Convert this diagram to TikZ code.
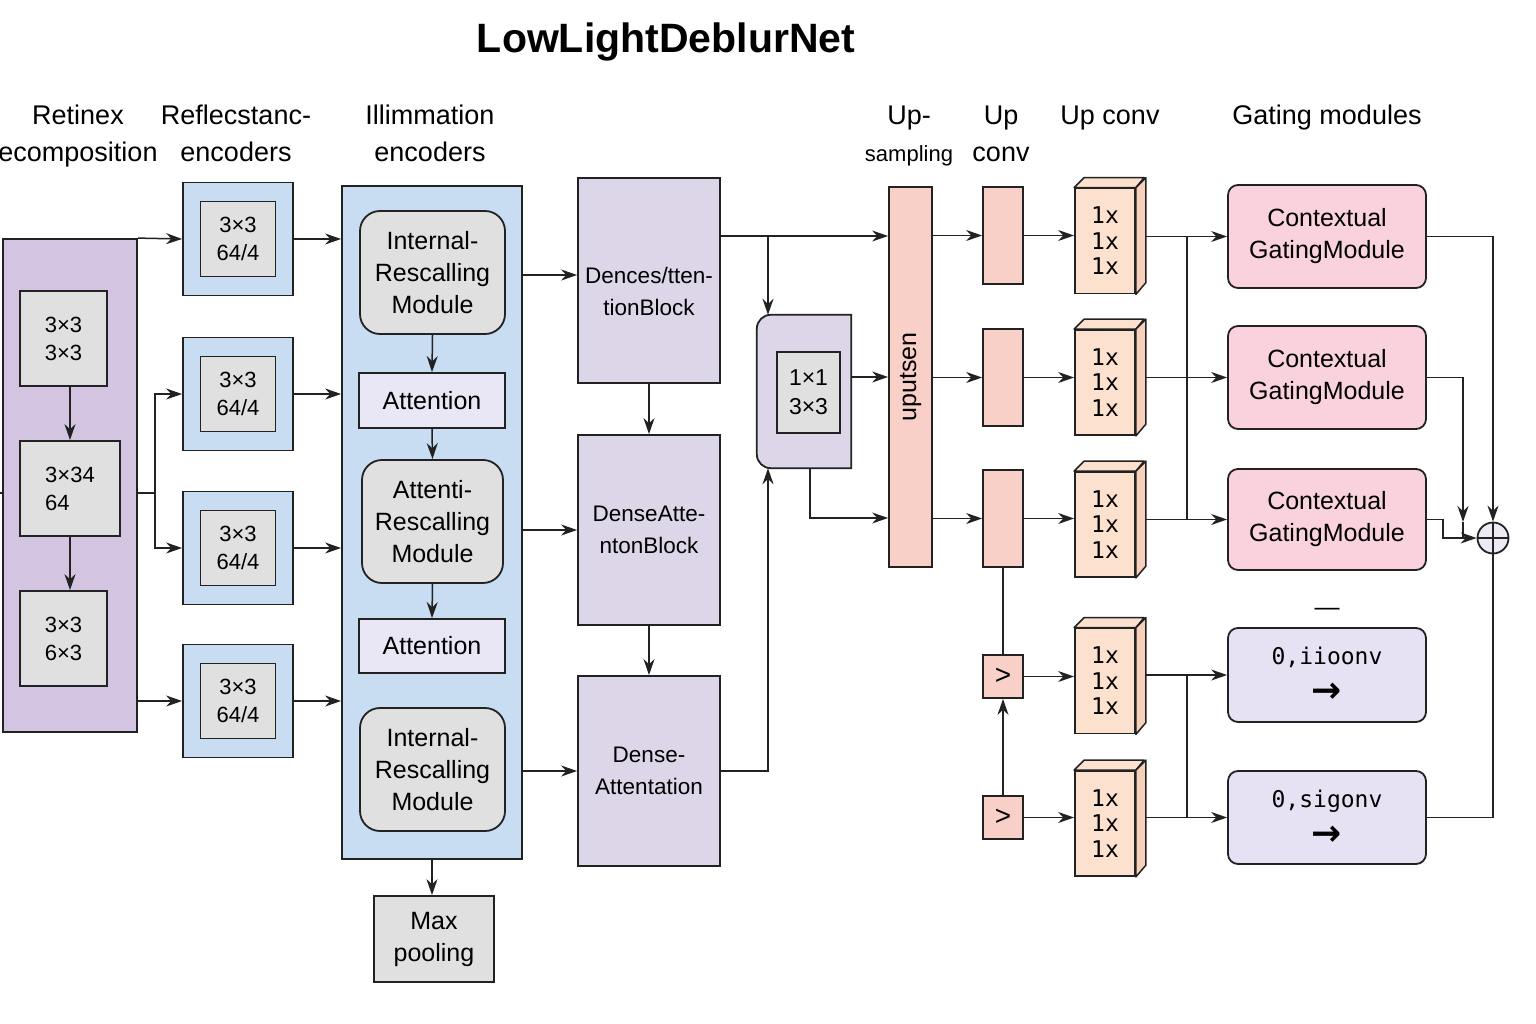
\documentclass[tikz,border=0pt]{standalone}
\usepackage{fontspec}
\setmainfont{Liberation Sans}
\setmonofont{DejaVu Sans Mono}
\newfontfamily\arrowfont{DejaVu Sans}
\usepackage{xcolor}
\usetikzlibrary{arrows.meta,positioning,backgrounds,calc}

\definecolor{edge}{RGB}{34,34,34}
\definecolor{retfill}{RGB}{211,196,225}
\definecolor{grayfill}{RGB}{224,224,224}
\definecolor{bluefill}{RGB}{200,220,242}
\definecolor{attfill}{RGB}{233,230,246}
\definecolor{densefill}{RGB}{221,214,233}
\definecolor{salmon}{RGB}{248,208,200}
\definecolor{peach}{RGB}{253,225,207}
\definecolor{peachside}{RGB}{246,208,186}
\definecolor{gatefill}{RGB}{250,210,222}
\definecolor{lavfill}{RGB}{230,225,243}
\definecolor{sumfill}{RGB}{238,234,245}

\begin{document}
\begin{tikzpicture}[
  x=1pt, y=-1pt, >=Stealth,
  box/.style={draw=edge, line width=1.8pt, align=center, inner sep=0pt, font=\fontsize{25}{32}\selectfont},
  retbox/.style={box, fill=retfill, minimum width=134pt, minimum height=493pt},
  gbox/.style={box, fill=grayfill, font=\fontsize{22}{28}\selectfont},
  encbox/.style={box, fill=bluefill, minimum width=110pt, minimum height=113pt},
  ibox/.style={gbox, minimum width=75pt, minimum height=75pt},
  rbox/.style={box, fill=grayfill, rounded corners=20pt, minimum width=145pt, minimum height=123pt},
  attbox/.style={box, fill=attfill, minimum width=146pt, minimum height=55pt},
  dbox/.style={box, fill=densefill, minimum width=142pt, font=\fontsize{22.5}{32}\selectfont},
  dlabel/.style={align=center, inner sep=0pt, font=\fontsize{22.5}{32}\selectfont},
  upbox/.style={box, fill=salmon, minimum width=40pt},
  cube/.style={box, fill=peach, minimum width=60pt, minimum height=105pt, font=\ttfamily\fontsize{23}{25.5}\selectfont},
  cubeface/.style={draw=edge, line width=1.5pt, fill=peachside, line join=round},
  gate/.style={box, fill=gatefill, rounded corners=10pt, minimum width=198pt, minimum height=103pt},
  obox/.style={box, fill=lavfill, rounded corners=10pt, minimum width=198pt, minimum height=94pt},
  head/.style={align=center, anchor=north, inner sep=0pt, font=\fontsize{27}{37}\selectfont},
  sumnode/.style={circle, draw=edge, fill=sumfill, minimum size=31pt, inner sep=0pt, line width=1.8pt,
    path picture={\draw[edge, line width=1.8pt] (path picture bounding box.north) -- (path picture bounding box.south)
      (path picture bounding box.west) -- (path picture bounding box.east);}},
  arrow/.style={-{Stealth[length=16pt,width=11pt]}, line width=1.5pt, edge},
  link/.style={line width=1.5pt, edge}
]
\useasboundingbox (0,0) rectangle (1536,1024);

\node[font=\fontsize{41}{48}\selectfont\bfseries] (title) at (666,42) {LowLightDeblurNet};

\node[head] (hret) at (78,98) {\strut Retinex\\\strut ecomposition};
\node[head] (href) at (236,98) {\strut Reflecstanc-\\\strut encoders};
\node[head] (hill) at (430,98) {\strut Illimmation\\\strut encoders};
\node[head] (hups) at (909,98) {\strut Up-\\\strut{\fontsize{22}{37}\selectfont sampling}};
\node[head] (hupc) at (1001,98) {\strut Up\\\strut conv};
\node[head] (hupc2) at (1110,98) {\strut Up conv};
\node[head] (hgate) at (1327,98) {\strut Gating modules};

% retinex decomposition
\node[retbox] (ret) at (70,485.5) {};
\node[gbox, minimum width=87pt, minimum height=95pt] (gA) at (63.5,338.5) {3×3\\3×3};
\node[gbox, minimum width=100pt, minimum height=95pt, align=left] (gB) at (70,488.5) {3×34\\64};
\node[gbox, minimum width=87pt, minimum height=95pt] (gC) at (63.5,638.5) {3×3\\6×3};
\draw[arrow] (gB.north |- gA.south) -- (gB.north);
\draw[arrow] (gB.south) -- (gB.south |- gC.north);
\coordinate (in) at (0,493);
\draw[link] (in) -- (ret.west |- in);

% reflectance encoders
\foreach \n/\y in {b1/239, b2/394, b3/548, b4/701} {
  \node[encbox] (\n) at (238,\y) {};
  \node[ibox] (\n i) at (238,\y) {3×3\\64/4};
}
\draw[arrow] (ret.north east) -- (b1.west);
\coordinate (split) at (155,493);
\draw[link] (ret.east |- split) -- (split);
\draw[arrow] (split) |- (b2.west);
\draw[arrow] (split) |- (b3.west);
\draw[arrow] (ret.east |- b4.west) -- (b4.west);

% illumination encoders
\node[box, fill=bluefill, minimum width=180pt, minimum height=673pt] (ill) at (432,522.5) {};
\foreach \n in {b1,b2,b3,b4}
  \draw[arrow] (\n.east) -- (\n.east -| ill.west);
\node[rbox] (r1) at (432.5,272.5) {Internal-\\Rescalling\\Module};
\node[attbox] (a1) at (432,400.5) {Attention};
\node[rbox, minimum width=141pt] (r2) at (432.5,521.5) {Attenti-\\Rescalling\\Module};
\node[attbox, minimum height=54pt] (a2) at (432,646) {Attention};
\node[rbox] (r3) at (432.5,769.5) {Internal-\\Rescalling\\Module};
\draw[arrow] (r1.south) -- (a1.north);
\draw[arrow] (a1.south) -- (r2.north);
\draw[arrow] (r2.south) -- (a2.north);
\node[box, fill=grayfill, minimum width=120pt, minimum height=86pt] (pool) at (434,939) {Max\\pooling};
\draw[arrow] (ill.south) -- (ill.south |- pool.north);

% dense attention blocks
\node[dbox, minimum height=205pt] (d1) at (649,280.5) {};
\node[dlabel] (d1t) at (649,291) {Dences/tten-\\tionBlock};
\node[dbox, minimum height=190pt] (d2) at (649,530) {DenseAtte-\\ntonBlock};
\node[dbox, minimum height=190pt] (d3) at (649,771) {Dense-\\Attentation};
\coordinate (rowD) at (0,275);
\draw[arrow] (ill.east |- rowD) -- (d1.west |- rowD);
\draw[arrow] (ill.east |- d2.west) -- (d2.west);
\draw[arrow] (ill.east |- d3.west) -- (d3.west);
\draw[arrow] (d1.south) -- (d2.north);
\draw[arrow] (d2.south) -- (d3.north);

% conv block and upsampling
\node[minimum width=94pt, minimum height=153pt, inner sep=0pt] (conv) at (804,391.5) {};
\begin{scope}[on background layer]
  \draw[line width=1.8pt, edge, fill=densefill] (conv.north) -- (conv.north east) -- (conv.south east) -- (conv.south)
    [rounded corners=14pt] -- (conv.south west) -- (conv.north west) -- (conv.north);
\end{scope}
\node[gbox, minimum width=63pt, minimum height=81pt, font=\fontsize{23}{29}\selectfont] (convi) at (808.5,392.5) {1×1\\3×3};
\node[upbox, minimum width=43pt, minimum height=380pt] (up) at (910.5,377) {};
\node[rotate=90, font=\fontsize{25}{30}\selectfont] (uplabel) at (up.center) {uputsen};
\coordinate (rowB) at (0,377);
\coordinate (rowC) at (0,518);
\coordinate (j1) at (768,236);
\draw[arrow] (d1.east |- j1) -- (up.west |- j1);
\draw[arrow] (j1) -- (j1 |- conv.north);
\draw[arrow] (d3.east) -| (j1 |- conv.south);
\draw[arrow] (conv.east |- rowB) -- (up.west |- rowB);
\draw[arrow] ([xshift=6pt]conv.south) |- (up.west |- rowC);

% up conv
\node[upbox, minimum height=97pt] (s1) at (1003,235.5) {};
\node[upbox, minimum height=97pt] (s2) at (1003,377.5) {};
\node[upbox, minimum height=97pt] (s3) at (1003,518.5) {};
\node[upbox, minimum height=43pt, font=\fontsize{28}{30}\selectfont] (v1) at (1003,676.5) {>};
\node[upbox, minimum height=43pt, font=\fontsize{28}{30}\selectfont] (v2) at (1003,817.5) {>};
\foreach \n in {s1,s2,s3}
  \draw[arrow] (up.east |- \n.west) -- (\n.west);
\draw[link] (s3.south) -- (v1.north);
\draw[arrow] (v2.north) -- (v1.south);

\foreach \n/\y in {c1/241, c2/382.5, c3/524.5, c4/681, c5/823.5}
  \node[cube] (\n) at (1105,\y) {1x\\1x\\1x};
\foreach \n in {c1,c2,c3,c4,c5} {
  \draw[cubeface, fill=peach] (\n.north west) -- ++(10,-10) -- ++(60,0) -- (\n.north east) -- cycle;
  \draw[cubeface] (\n.north east) -- ++(10,-10) -- ++(0,105) -- (\n.south east) -- cycle;
}
\draw[arrow] (s1.east) -- (s1.east -| c1.west);
\draw[arrow] (s2.east) -- (s2.east -| c2.west);
\draw[arrow] (s3.east) -- (s3.east -| c3.west);
\draw[arrow] (v1.east) -- (v1.east -| c4.west);
\draw[arrow] (v2.east) -- (v2.east -| c5.west);

% gating modules
\node[gate] (gm1) at (1327,236.5) {Contextual\\GatingModule};
\node[gate] (gm2) at (1327,377.5) {Contextual\\GatingModule};
\node[gate, minimum height=101pt] (gm3) at (1327,519.5) {Contextual\\GatingModule};
\node[obox] (o1) at (1327,675) {\ttfamily\fontsize{23}{30}\selectfont 0,iioonv\\[6pt]{\arrowfont\bfseries\fontsize{36}{30}\selectfont →}};
\node[obox, minimum height=93pt] (o2) at (1327,817.5) {\ttfamily\fontsize{23}{30}\selectfont 0,sigonv\\[6pt]{\arrowfont\bfseries\fontsize{36}{30}\selectfont →}};
\node[font=\fontsize{25}{30}\selectfont] (dash) at (1327,612) {—};
\coordinate (bus) at (1187,0);
\foreach \c/\g in {c1/gm1, c2/gm2, c3/gm3, c4/o1, c5/o2}
  \draw[arrow] ([xshift=10pt]\c.east |- \g.west) -- (\g.west);
\draw[link] (bus |- gm1.west) -- (bus |- gm3.west);
\draw[link] (bus |- o1.west) -- (bus |- o2.west);

\node[sumnode] (sum) at (1493,538) {};
\coordinate (m2) at (1463,538);
\draw[arrow] (gm1.east) -| (sum.north);
\draw[arrow] (gm2.east) -| ([yshift=16pt]m2);
\draw[link] ([yshift=16pt]m2) -- (m2);
\draw[arrow] (gm3.east) -- ++(16,0) |- (sum.west);
\draw[link] (o2.east) -| (sum.south);

\end{tikzpicture}
\end{document}
